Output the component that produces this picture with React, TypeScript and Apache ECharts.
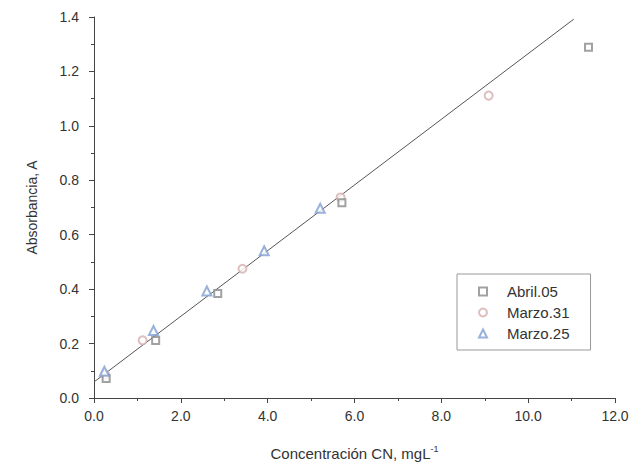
import React, { useEffect, useRef } from "react";
import * as echarts from "echarts";

const abrilX = [0.28, 1.42, 2.85, 5.71, 11.39];
const abrilY = [0.072, 0.211, 0.384, 0.717, 1.289];
const marzo31X = [0.26, 1.12, 3.42, 5.68, 9.09];
const marzo31Y = [0.085, 0.212, 0.475, 0.737, 1.111];
const marzo25X = [0.24, 1.37, 2.6, 3.92, 5.21];
const marzo25Y = [0.098, 0.248, 0.393, 0.541, 0.697];
const fitX = [0, 11.05];
const fitY = [0.059, 1.392];
const seriesNames = ["Abril.05", "Marzo.31", "Marzo.25"];

const zip = (xs: number[], ys: number[]) => xs.map((x, i) => [x, ys[i]]);

export default function App() {
  const ref = useRef<HTMLDivElement>(null);
  useEffect(() => {
    if (!ref.current) return;
    const chart = echarts.init(ref.current, undefined, { renderer: "svg" });
    const font = "Liberation Sans, Arial, sans-serif";
    const axisColor = "#444";
    chart.setOption({
      animation: false,
      backgroundColor: "#fff",
      textStyle: { fontFamily: font },
      grid: { left: 94, right: 17, top: 17, bottom: 71, containLabel: false },
      legend: {
        data: seriesNames,
        orient: "vertical",
        left: 457,
        top: 274,
        itemWidth: 8,
        itemHeight: 8,
        itemGap: 6,
        borderColor: "#999",
        borderWidth: 1,
        padding: [10, 21, 9, 21],
        textStyle: { fontSize: 15, color: "#333", fontFamily: font, padding: [0, 0, 0, 15] },
      },
      xAxis: {
        type: "value",
        min: 0,
        max: 12,
        interval: 2,
        name: "Concentración CN, mgL{sup|-1}",
        nameLocation: "middle",
        nameGap: 46,
        nameTextStyle: {
          fontSize: 15,
          color: "#333",
          fontFamily: font,
          rich: { sup: { fontSize: 9, verticalAlign: "top", padding: [0, 0, 9, 0], color: "#333" } },
        },
        axisLine: { show: true, lineStyle: { color: axisColor, width: 1 } },
        axisTick: { show: true, inside: false, length: 5, lineStyle: { color: axisColor } },
        minorTick: { show: true, splitNumber: 2, length: 3, lineStyle: { color: axisColor } },
        splitLine: { show: false },
        axisLabel: { margin: 11, fontSize: 14, color: "#333", formatter: (v: number) => v.toFixed(1) },
      },
      yAxis: {
        type: "value",
        min: 0,
        max: 1.4,
        interval: 0.2,
        name: "Absorbancia, A",
        nameLocation: "middle",
        nameGap: 55,
        nameTextStyle: { fontSize: 14, color: "#333", fontFamily: font },
        axisLine: { show: true, lineStyle: { color: axisColor, width: 1 } },
        axisTick: { show: true, inside: false, length: 5, lineStyle: { color: axisColor } },
        minorTick: { show: true, splitNumber: 2, length: 3, lineStyle: { color: axisColor } },
        splitLine: { show: false },
        axisLabel: { margin: 15, fontSize: 14, color: "#333", formatter: (v: number) => v.toFixed(1) },
      },
      series: [
        {
          name: "fit",
          type: "line",
          data: zip(fitX, fitY),
          showSymbol: false,
          symbol: "none",
          lineStyle: { color: "#555", width: 1 },
          z: 1,
        },
        {
          name: seriesNames[0],
          type: "scatter",
          data: zip(abrilX, abrilY),
          symbol: "emptyRect",
          symbolSize: 7,
          itemStyle: { color: "#8a8a8a", borderColor: "#8a8a8a", borderWidth: 1 },
          z: 3,
        },
        {
          name: seriesNames[1],
          type: "scatter",
          data: zip(marzo31X, marzo31Y),
          symbol: "emptyCircle",
          symbolSize: 8,
          itemStyle: { color: "#d6afaf", borderColor: "#d6afaf", borderWidth: 1 },
          z: 2,
        },
        {
          name: seriesNames[2],
          type: "scatter",
          data: zip(marzo25X, marzo25Y),
          symbol: "emptyTriangle",
          symbolSize: 9,
          itemStyle: { color: "#7e9fd2", borderColor: "#7e9fd2", borderWidth: 1 },
          z: 3,
        },
      ],
    });
    return () => chart.dispose();
  }, []);
  return <div ref={ref} style={{ width: 632, height: 469, position: "absolute", left: 0, top: 0 }} />;
}
